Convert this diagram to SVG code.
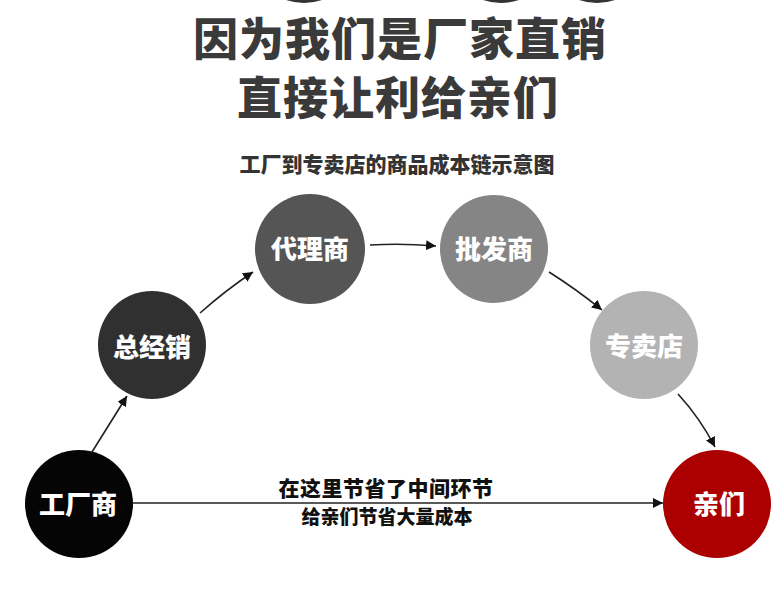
<svg xmlns="http://www.w3.org/2000/svg" width="777" height="596" viewBox="0 0 777 596">
<style>
.t{font-family:"Noto Sans CJK SC","Noto Sans",sans-serif;font-weight:900;text-anchor:middle}
.h{fill:#3a3a3a;font-size:45px;letter-spacing:1px}
.lbl{fill:#fff;font-size:26px;dominant-baseline:central}
.c{stroke:#222;stroke-width:1.6;fill:none}
</style>
<defs>
<marker id="ah" viewBox="0 0 10 10" refX="10" refY="5" markerWidth="10" markerHeight="10" markerUnits="userSpaceOnUse" orient="auto">
<path d="M0,0 L10,5 L0,10 z" fill="#111"/>
</marker>
</defs>
<rect width="777" height="596" fill="#fff"/>
<g id="top-circles">
<circle cx="304" cy="-52" r="55" fill="#333"/>
<circle cx="501" cy="-52" r="55" fill="#333"/>
<circle cx="597" cy="-52" r="55" fill="#333"/>
</g>
<g id="title">
<text class="t h" x="400" y="56">因为我们是厂家直销</text>
<text class="t h" x="398" y="115">直接让利给亲们</text>
<text class="t" x="397" y="172" font-size="21" fill="#333">工厂到专卖店的商品成本链示意图</text>
</g>
<g id="connectors">
<path class="c" d="M92,452 L127,396" marker-end="url(#ah)"/>
<path class="c" d="M200,313 Q226,290 253,272" marker-end="url(#ah)"/>
<path class="c" d="M370,245 Q402,243 436,246" marker-end="url(#ah)"/>
<path class="c" d="M549,272 Q576,289 602,310" marker-end="url(#ah)"/>
<path class="c" d="M678,394 Q700,418 715,447" marker-end="url(#ah)"/>
<path class="c" d="M133,503 L663,503" stroke-width="1.3" marker-end="url(#ah)"/>
</g>
<g id="node-factory">
<circle cx="79" cy="504" r="54" fill="#050505"/>
<text class="t lbl" x="78" y="502">工厂商</text>
</g>
<g id="node-general">
<circle cx="152" cy="345" r="54" fill="#303030"/>
<text class="t lbl" x="152" y="345">总经销</text>
</g>
<g id="node-agent">
<circle cx="310" cy="249" r="55" fill="#555"/>
<text class="t lbl" x="310" y="247">代理商</text>
</g>
<g id="node-wholesale">
<circle cx="494" cy="249" r="54" fill="#858585"/>
<text class="t lbl" x="494" y="247">批发商</text>
</g>
<g id="node-store">
<circle cx="644" cy="345" r="54" fill="#b3b3b3"/>
<text class="t lbl" x="644" y="344">专卖店</text>
</g>
<g id="node-customer">
<circle cx="717" cy="504" r="54" fill="#ac0000"/>
<text class="t lbl" x="719" y="502">亲们</text>
</g>
<g id="note">
<text class="t" x="386" y="496" font-size="21" letter-spacing="0.5" fill="#111">在这里节省了中间环节</text>
<text class="t" x="387" y="524" font-size="19" fill="#111">给亲们节省大量成本</text>
</g>
</svg>
